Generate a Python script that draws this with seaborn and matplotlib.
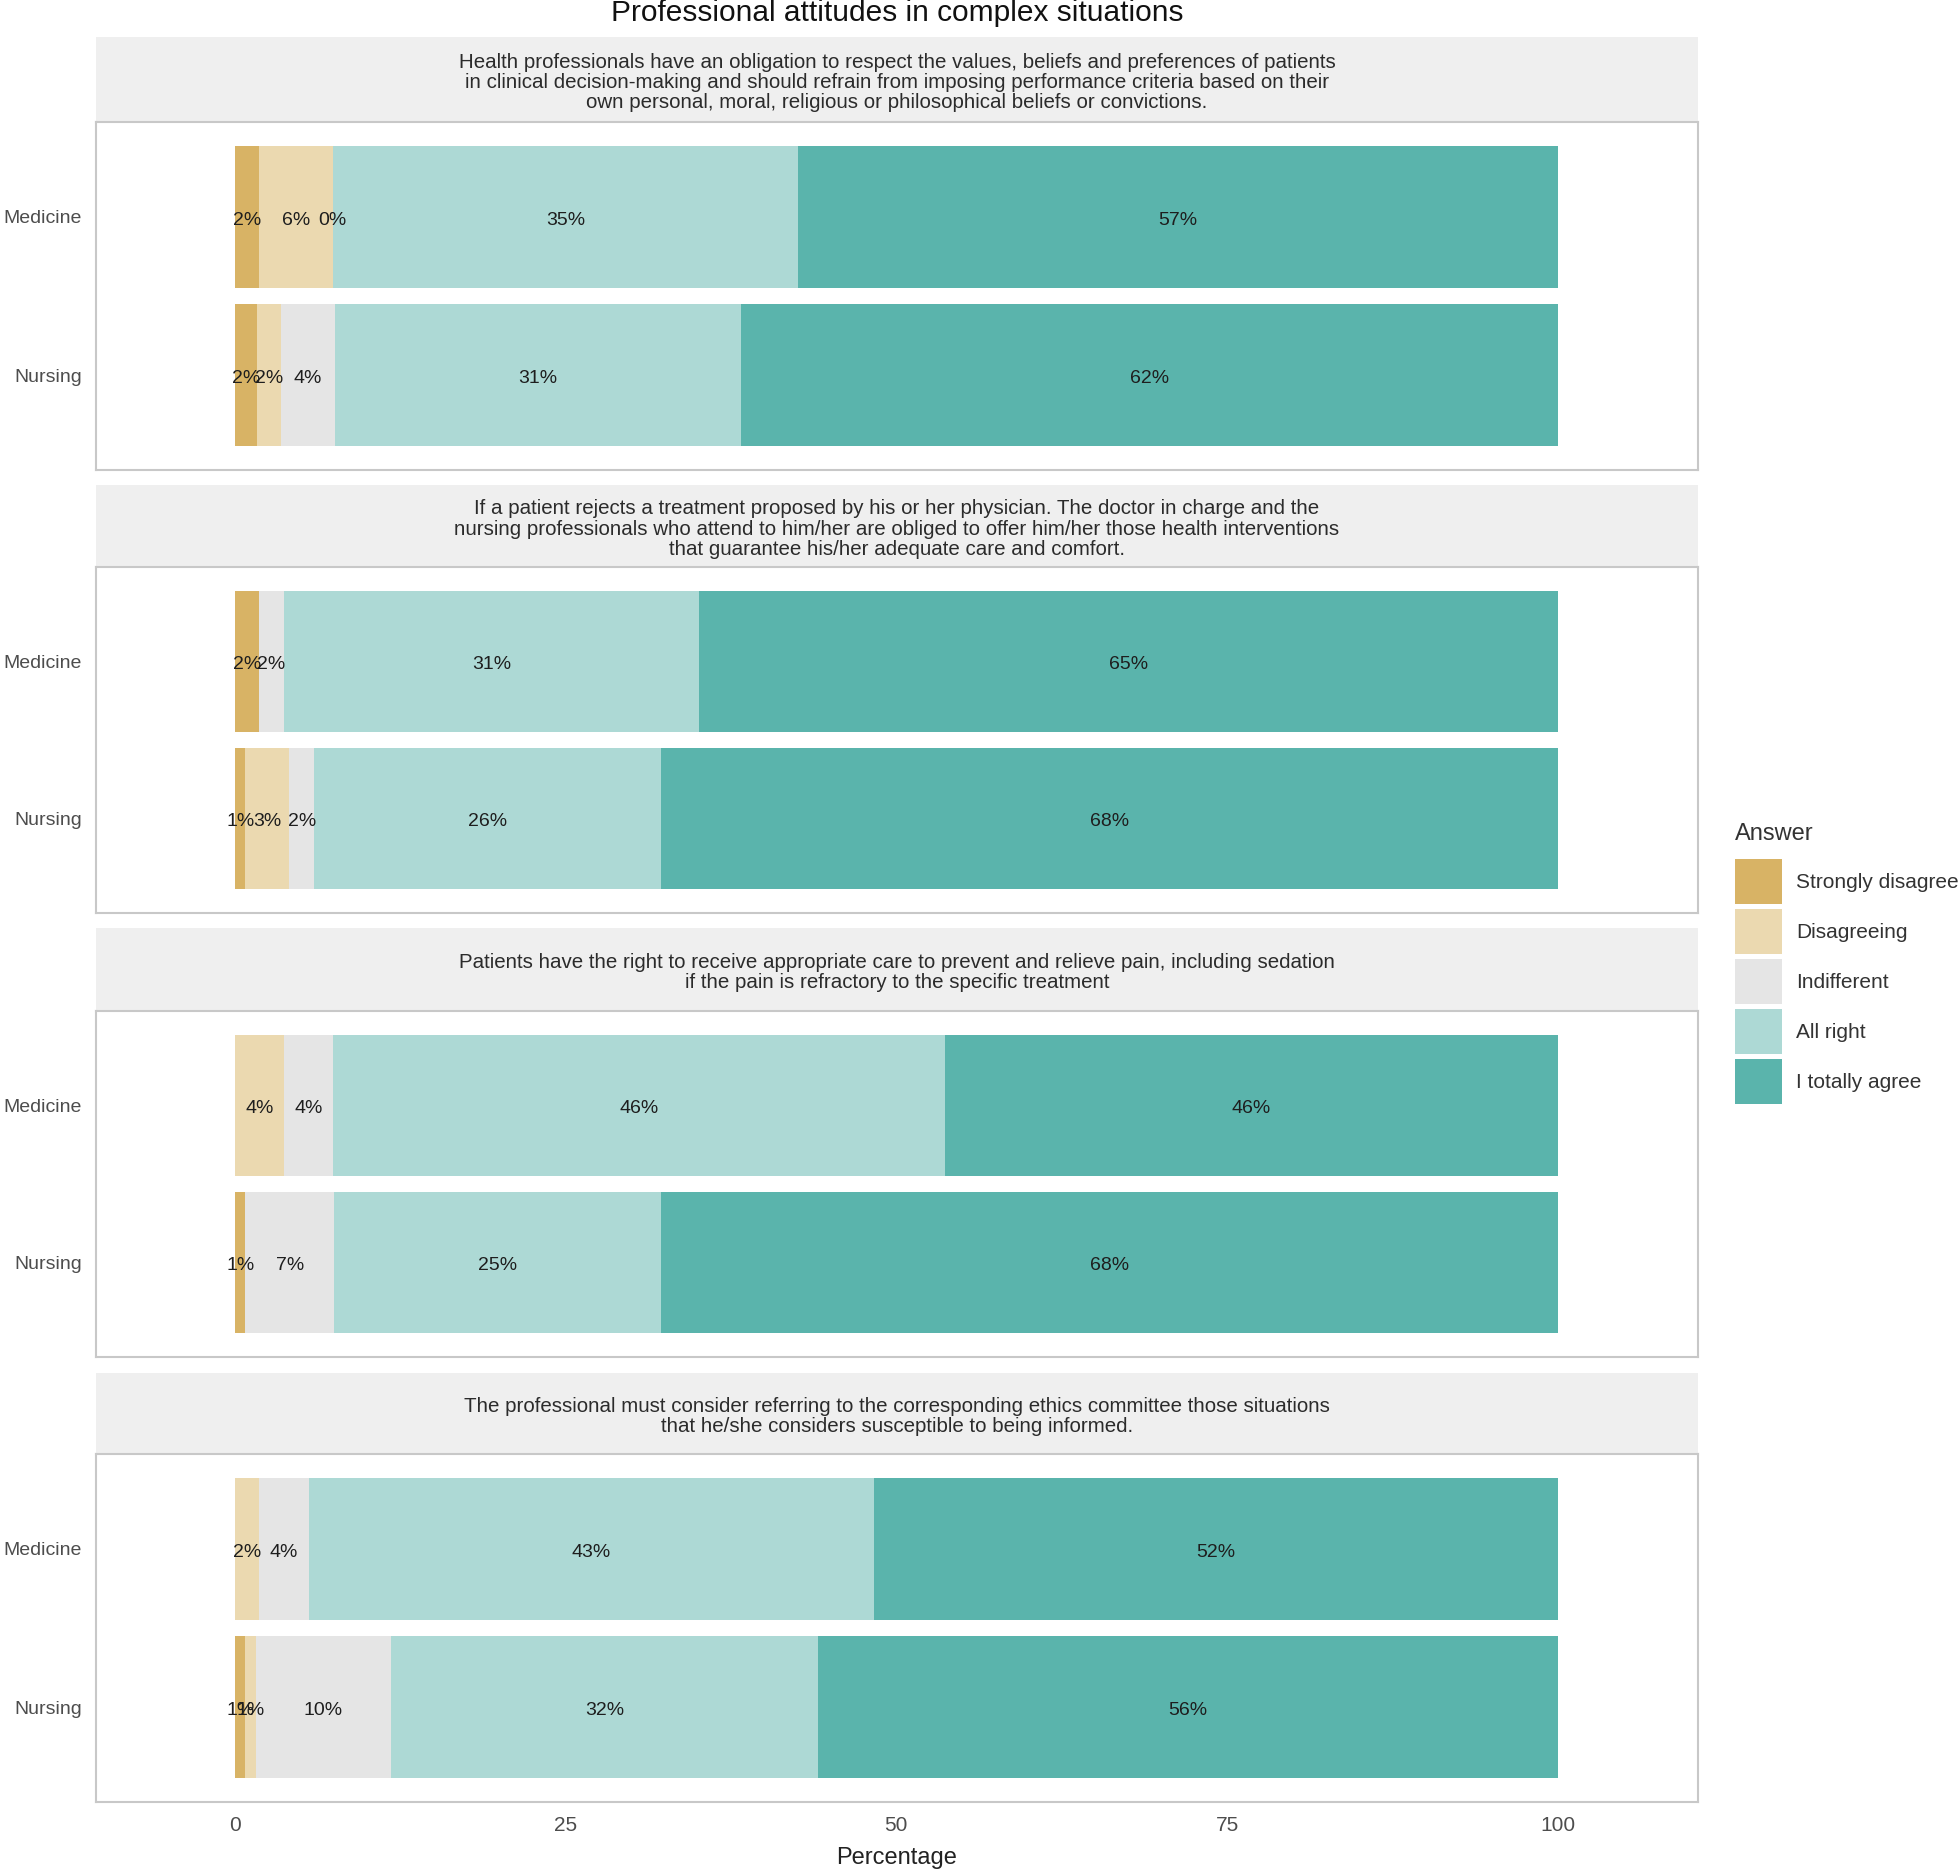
import matplotlib
matplotlib.use("Agg")
import matplotlib.pyplot as plt
from matplotlib.patches import Rectangle, Patch
import seaborn as sns
import pandas as pd

# ---------------- data ----------------
questions = [
    "Health professionals have an obligation to respect the values, beliefs and preferences of patients\n"
    "in clinical decision-making and should refrain from imposing performance criteria based on their\n"
    "own personal, moral, religious or philosophical beliefs or convictions.",
    "If a patient rejects a treatment proposed by his or her physician. The doctor in charge and the\n"
    "nursing professionals who attend to him/her are obliged to offer him/her those health interventions\n"
    "that guarantee his/her adequate care and comfort.",
    "Patients have the right to receive appropriate care to prevent and relieve pain, including sedation\n"
    "if the pain is refractory to the specific treatment",
    "The professional must consider referring to the corresponding ethics committee those situations\n"
    "that he/she considers susceptible to being informed.",
]
groups = ["Medicine", "Nursing"]
answers = ["Strongly disagree", "Disagreeing", "Indifferent", "All right", "I totally agree"]

# values per question: [Medicine, Nursing]; None = category absent
strongly_disagree = [[1.8, 1.7], [1.8, 0.8], [None, 0.8], [None, 0.8]]
disagreeing       = [[5.6, 1.8], [None, 3.3], [3.7, None], [1.8, 0.8]]
indifferent       = [[0.0, 4.05], [1.9, 1.9], [3.7, 6.7], [3.8, 10.2]]
all_right         = [[35.2, 30.7], [31.4, 26.2], [46.3, 24.7], [42.7, 32.3]]
totally_agree     = [[57.4, 61.75], [64.9, 67.8], [46.3, 67.8], [51.7, 55.9]]

series = [strongly_disagree, disagreeing, indifferent, all_right, totally_agree]
colors = ["#D8B365", "#EBD9B0", "#E5E5E5", "#ADD9D5", "#5AB4AC"]

title = "Professional attitudes in complex situations"
xlabel = "Percentage"
legend_title = "Answer"
xticks = [0, 25, 50, 75, 100]

# ---------------- style ----------------
sns.set_theme(style="white")
plt.rcParams["font.family"] = ["Liberation Sans", "DejaVu Sans"]

W, H = 1959, 1870
fig = plt.figure(figsize=(W / 100, H / 100), dpi=100)
fig.patch.set_facecolor("white")

left_px, right_px = 96, 1698
strips = [(37, 122), (485, 567), (928, 1011), (1373, 1454)]
panels = [(122, 470), (567, 913), (1011, 1357), (1454, 1802)]

border = "#C8C8C8"
for q in range(4):
    s0, s1 = strips[q]
    p0, p1 = panels[q]
    # strip
    fig.add_artist(Rectangle((left_px / W, 1 - s1 / H), (right_px - left_px) / W, (s1 - s0) / H,
                             transform=fig.transFigure, facecolor="#EFEFEF", edgecolor="none", zorder=0))
    fig.text((left_px + right_px) / 2 / W, 1 - ((s0 + s1) / 2 + 3) / H, questions[q],
             ha="center", va="center", fontsize=14.8, linespacing=1.08, color="#2b2b2b")

    ax = fig.add_axes([left_px / W, 1 - p1 / H, (right_px - left_px) / W, (p1 - p0) / H])
    ax.set_facecolor("white")

    # stacked bars via overlapping cumulative bars
    cums = []
    for k in range(len(answers)):
        cum = []
        for g in range(2):
            cum.append(sum((series[j][q][g] or 0) for j in range(k + 1)))
        cums.append(cum)
    for k in range(len(answers) - 1, -1, -1):
        df = pd.DataFrame({"group": groups, "value": cums[k]})
        sns.barplot(data=df, x="value", y="group", orient="h", color=colors[k],
                    saturation=1, width=0.9, errorbar=None, ax=ax, linewidth=0)

    # labels
    for g in range(2):
        leftv = 0
        for k in range(len(answers)):
            v = series[k][q][g]
            if v is None:
                continue
            ax.text(leftv + v / 2, g + 0.02, f"{round(v)}%", ha="center", va="center",
                    fontsize=14, color="#1e1e1e")
            leftv += v

    ax.set_xlim(-10.5, 110.6)
    ax.set_ylim(1.6, -0.6)
    ax.set_xlabel("")
    ax.set_ylabel("")
    for sp in ax.spines.values():
        sp.set_color(border)
        sp.set_linewidth(1.5)
    ax.tick_params(axis="y", length=4, color=border, labelsize=14, labelcolor="#4D4D4D", pad=6)
    ax.set_yticks([0, 1])
    ax.set_yticklabels(groups)
    ax.set_xticks(xticks)
    if q == 3:
        ax.tick_params(axis="x", length=4, color=border, labelsize=15, labelcolor="#4D4D4D", pad=6)
        ax.set_xticklabels([str(t) for t in xticks])
        ax.set_xlabel(xlabel, fontsize=17, color="#222222", labelpad=9)
    else:
        ax.tick_params(axis="x", length=0, labelbottom=False)

fig.text(897 / W, 1 - 21 / H, title, ha="center", va="baseline", fontsize=21.5, color="#111111")

# legend
fig.text(1735 / W, 1 - 834 / H, legend_title, ha="left", va="center", fontsize=17, color="#333333")
handles = [Patch(facecolor=c, edgecolor="none") for c in colors]
leg = fig.legend(handles, answers, loc="upper left",
                 bbox_to_anchor=(1735 / W, 1 - 859 / H), frameon=False,
                 fontsize=15, handlelength=2.26, handleheight=2.95,
                 labelspacing=0.24, handletextpad=0.67, borderpad=0, borderaxespad=0)
for t in leg.get_texts():
    t.set_color("#333333")

fig.savefig("out.png", dpi=100)
